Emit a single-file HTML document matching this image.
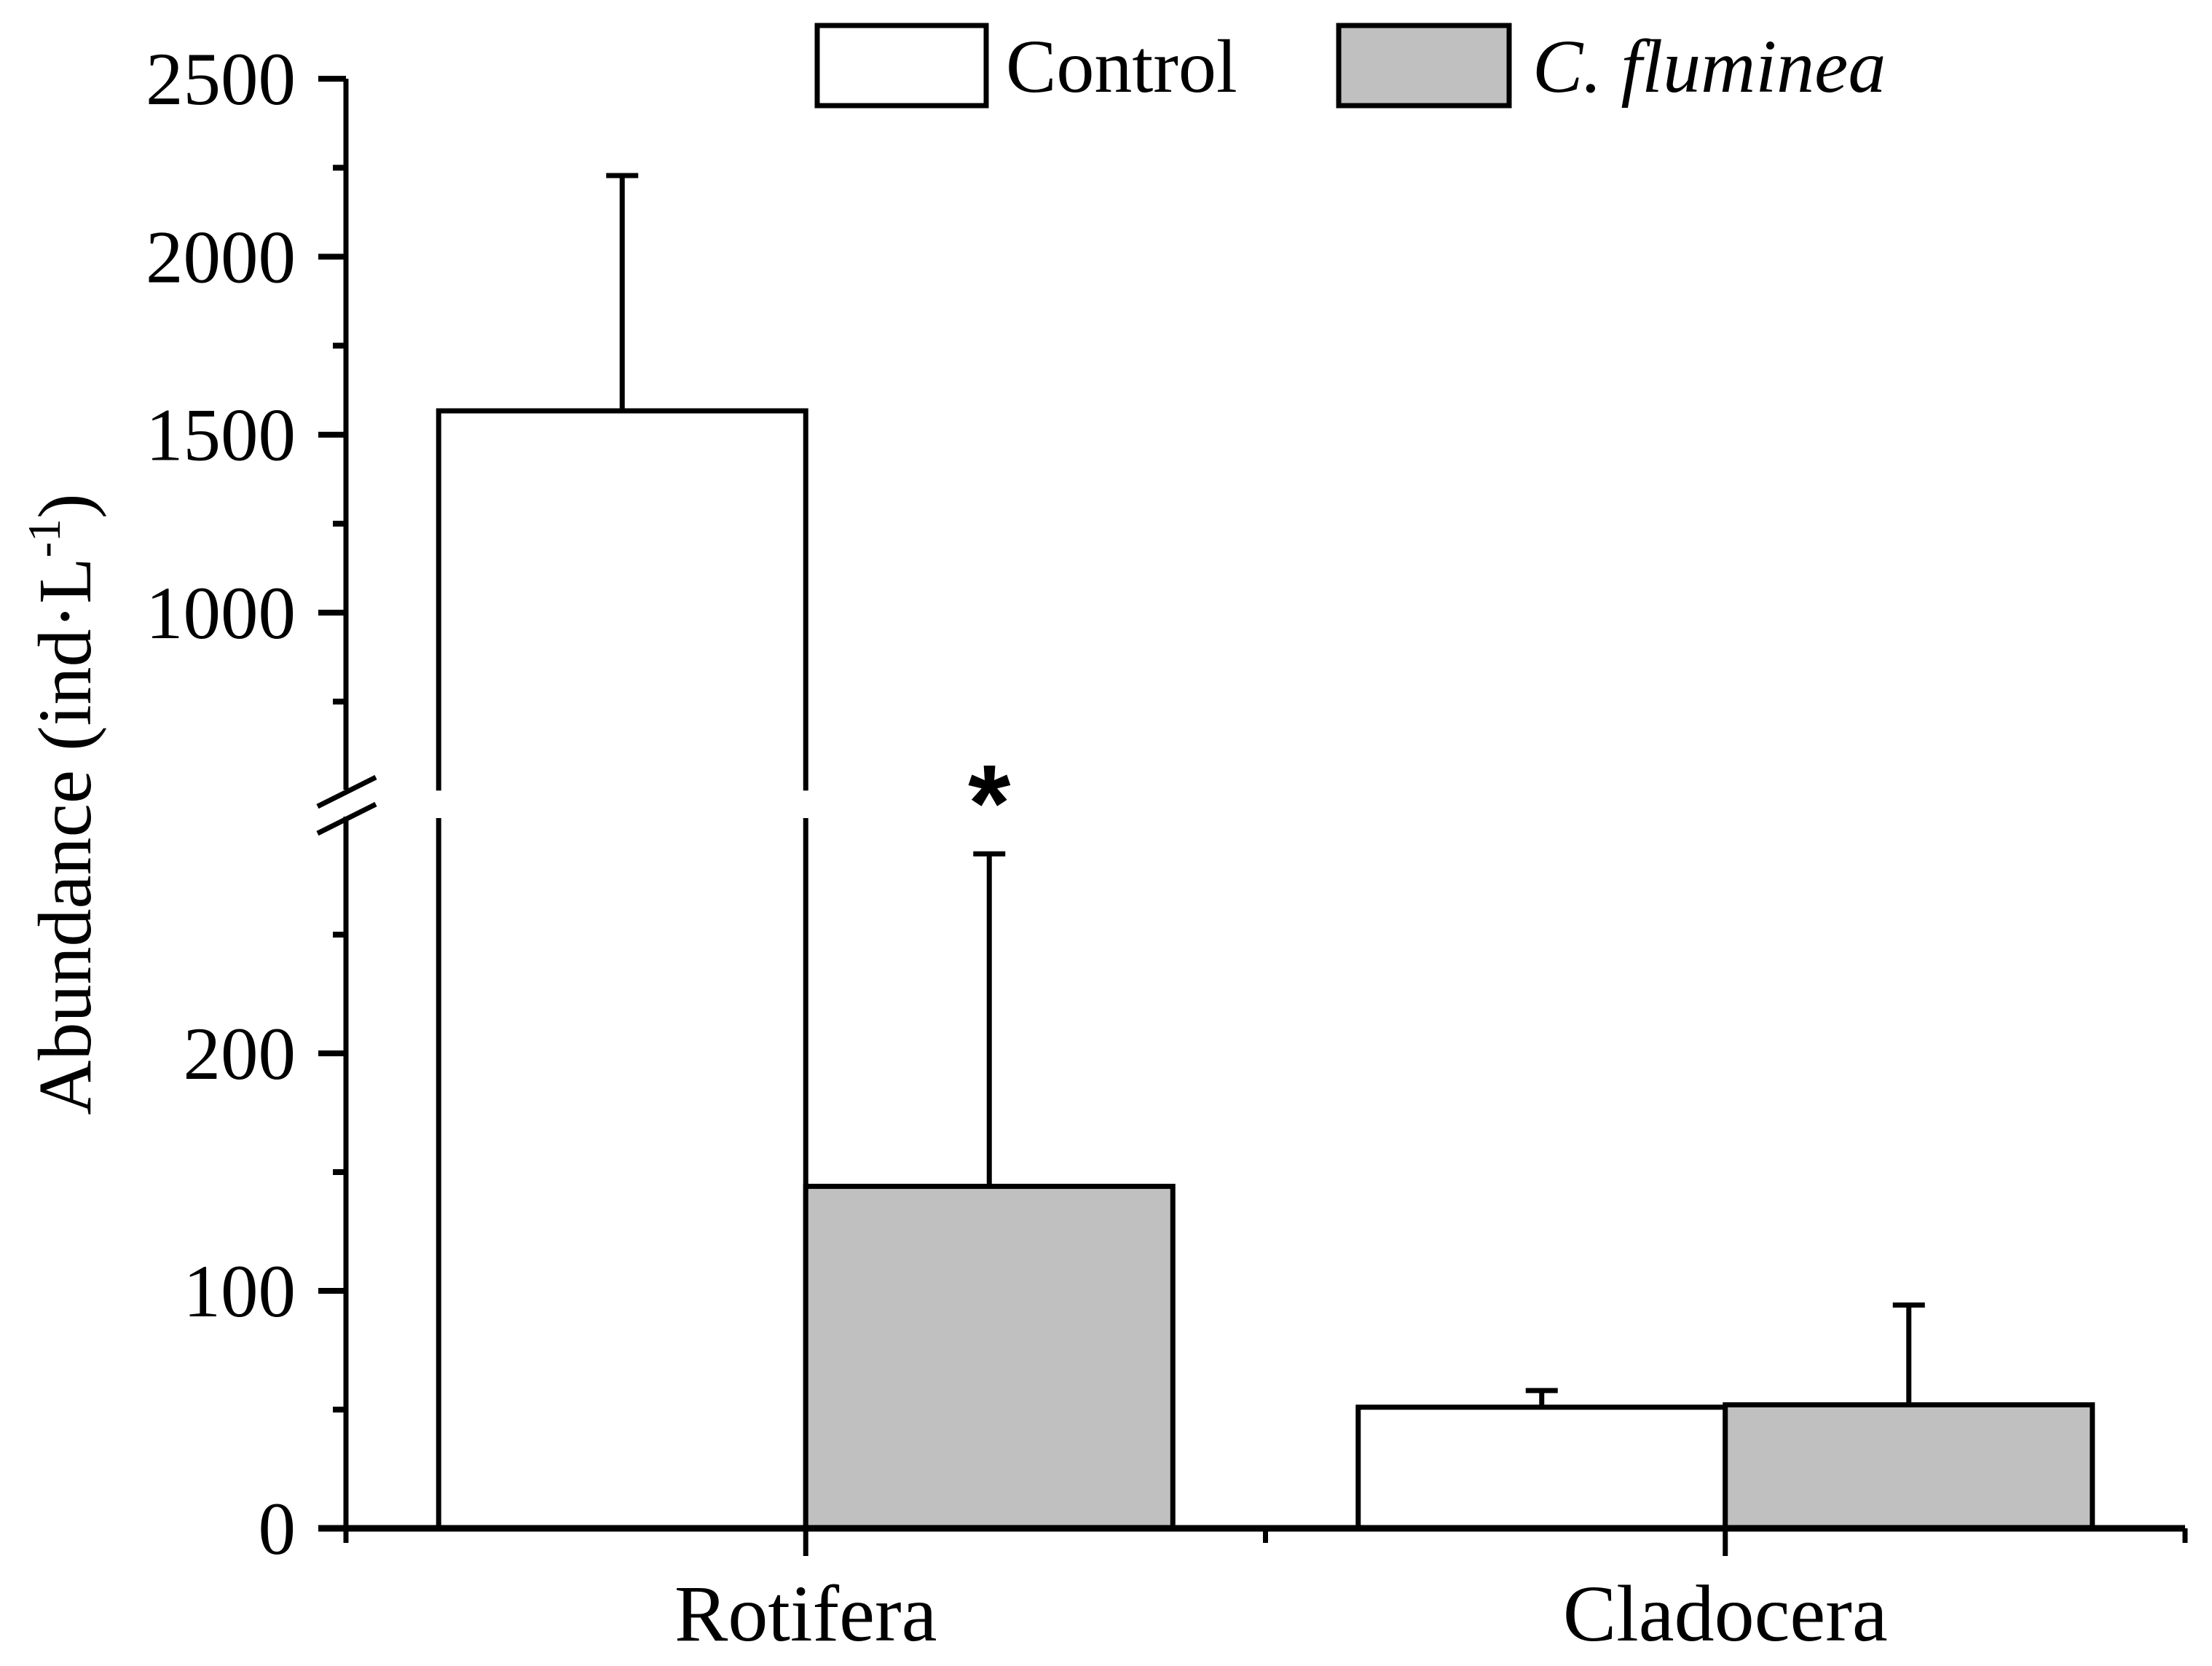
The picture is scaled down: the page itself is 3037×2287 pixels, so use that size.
<!DOCTYPE html>
<html><head><meta charset="utf-8"><style>
html,body{margin:0;padding:0;background:#fff;}
svg{display:block;font-family:"Liberation Serif",serif;}
</style></head><body>
<svg id="chart" width="3037" height="2287" viewBox="0 0 3037 2287" xmlns="http://www.w3.org/2000/svg">
<g id="legend">
 <g>
  <rect x="1122" y="35" width="232" height="110" fill="#fff" stroke="#000" stroke-width="7"/>
  <text x="1381" y="126" font-size="104">Control</text>
 </g>
 <g>
  <rect x="1838" y="35" width="234" height="110" fill="#c0c0c0" stroke="#000" stroke-width="7"/>
  <text x="2104" y="126" font-size="104" font-style="italic">C. fluminea</text>
 </g>
</g>
<text transform="translate(124,1104) rotate(-90)" text-anchor="middle" font-size="104">Abundance (ind·L<tspan font-size="64" dy="-42">-1</tspan><tspan dy="42">)</tspan></text>
<g id="plot"></g>
</svg>
<script>
const categories = ["Rotifera", "Cladocera"];
const controlValues = [1567, 51];
const controlErrors = [661, 7];
const flumineaValues = [144, 52];
const flumineaErrors = [140, 42];
const upperTicks = [2500, 2000, 1500, 1000];
const upperMinor = [2250, 1750, 1250, 750];
const lowerTicks = [200, 100, 0];
const lowerMinor = [250, 150, 50];
const significance = ["*", ""];

const NS = "http://www.w3.org/2000/svg";
const plot = document.getElementById("plot");
const AX = 475, XR = 3000, Y0 = 2098;
function yLow(v){ return Y0 - v * 3.26; }
function yUp(v){ return 841 - (v - 1000) * 0.4886; }
const LOW_MAX = 300, UP_MIN = 500;
function yScale(v){ return v <= LOW_MAX ? yLow(v) : (v >= UP_MIN ? yUp(v) : null); }
const bandW = (XR - AX) / categories.length;
function xCenter(i){ return AX + bandW * (i + 0.5); }
const barW = 504;

function mk(tag, attrs){ const e = document.createElementNS(NS, tag); for (const k in attrs) e.setAttribute(k, attrs[k]); plot.appendChild(e); return e; }

function drawBar(i, v, err, left, fill, series){
  const right = left + barW;
  const g = document.createElementNS(NS, "g");
  
  
  plot.appendChild(g);
  const add = (tag, a) => { const e = document.createElementNS(NS, tag); for (const k in a) e.setAttribute(k, a[k]); g.appendChild(e); return e; };
  if (v <= LOW_MAX) {
    add("rect", {x:left, y:yLow(v), width:barW, height:Y0 - yLow(v), fill:fill, stroke:"#000", "stroke-width":7});
  } else {
    add("rect", {x:left, y:yLow(LOW_MAX), width:barW, height:Y0 - yLow(LOW_MAX), fill:fill, stroke:"none"});
    add("rect", {x:left, y:yUp(v), width:barW, height:yUp(UP_MIN) - yUp(v), fill:fill, stroke:"none"});
    add("path", {d:`M${left},${Y0} V${yLow(LOW_MAX)+3} M${right},${Y0} V${yLow(LOW_MAX)+3} M${left},${yUp(UP_MIN)} V${yUp(v)} H${right} V${yUp(UP_MIN)}`, fill:"none", stroke:"#000", "stroke-width":7});
  }
  const cx = left + barW / 2;
  const yt = yScale(v), ye = yScale(v + err);
  const eb = document.createElementNS(NS, "path");
  
  
  eb.setAttribute("d", `M${cx},${yt} V${ye} M${cx-22},${ye} H${cx+22}`);
  eb.setAttribute("stroke", "#000"); eb.setAttribute("stroke-width", 7); eb.setAttribute("fill", "none");
  g.appendChild(eb);
  return ye;
}
categories.forEach((c, i) => {
  const xc = xCenter(i);
  drawBar(i, controlValues[i], controlErrors[i], xc - barW, "#fff", "control");
  const ye = drawBar(i, flumineaValues[i], flumineaErrors[i], xc, "#c0c0c0", "c-fluminea");
  if (significance[i]) {
    const t = mk("text", {x:xc + barW/2, y:ye - 18, "text-anchor":"middle", "font-size":150, "font-weight":"bold", "font-family":"Liberation Sans, sans-serif"});
    
    
    t.textContent = significance[i];
  }
  const lab = mk("text", {x:xc, y:2252, "text-anchor":"middle", "font-size":110});
  
  
  lab.textContent = c;
});

const yax = mk("path", {d:`M${AX},${yUp(2500)} V${yUp(UP_MIN)-1} M${AX},${yLow(LOW_MAX)+1} V${Y0}`, stroke:"#000", "stroke-width":7, fill:"none"});


const brk = mk("path", {d:`M436,1107 L516,1067 M436,1144 L516,1104`, stroke:"#000", "stroke-width":7, fill:"none"});


function yTick(y, len, label){
  const t = mk("line", {x1:AX - len, x2:AX, y1:y, y2:y, stroke:"#000", "stroke-width":8});
  
  
  if (label !== undefined) {
    const tx = mk("text", {x:406, y:y + 35, "text-anchor":"end", "font-size":103});
    
    
    tx.textContent = label;
  }
}
upperTicks.forEach(v => yTick(yUp(v), 38, v));
upperMinor.forEach(v => yTick(yUp(v), 18));
lowerTicks.forEach(v => yTick(yLow(v), 38, v));
lowerMinor.forEach(v => yTick(yLow(v), 18));

const xax = mk("line", {x1:AX - 38, x2:XR, y1:Y0, y2:Y0, stroke:"#000", "stroke-width":9});


for (let k = 0; k <= categories.length * 2; k++) {
  const x = AX + bandW / 2 * k;
  const major = k % 2 === 1;
  const t = mk("line", {x1:x, x2:x, y1:Y0, y2:Y0 + (major ? 38 : 20), stroke:"#000", "stroke-width":7});
  
  
}
</script>
</body></html>
